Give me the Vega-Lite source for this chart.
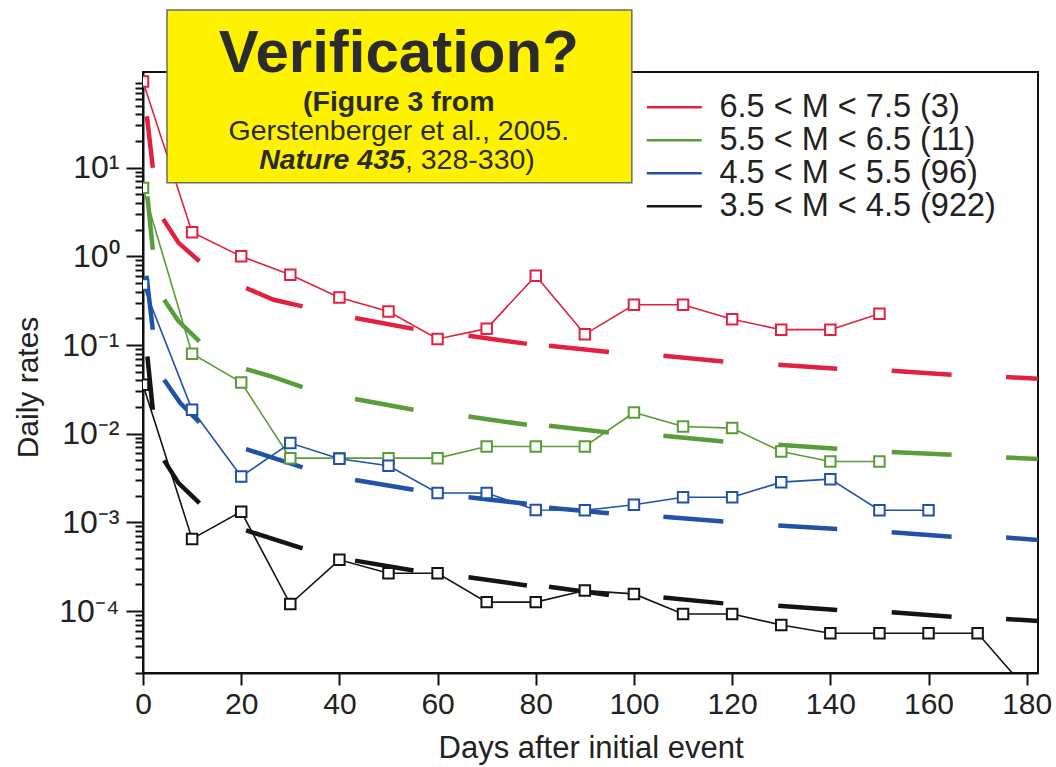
{
  "$schema": "https://vega.github.io/schema/vega-lite/v6.json",
  "width": 895,
  "height": 601,
  "autosize": {"type": "none"},
  "padding": {"left": 143, "top": 72, "right": 18, "bottom": 94},
  "background": "white",
  "config": {
    "view": {"stroke": "#111111", "strokeWidth": 2},
    "font": "Liberation Sans"
  },
  "datasets": {
    "observed": [
      {"magnitude": "6.5 < M < 7.5 (3)", "day": 0, "rate": 94},
      {"magnitude": "6.5 < M < 7.5 (3)", "day": 10, "rate": 1.87},
      {"magnitude": "6.5 < M < 7.5 (3)", "day": 20, "rate": 1.0},
      {"magnitude": "6.5 < M < 7.5 (3)", "day": 30, "rate": 0.62},
      {"magnitude": "6.5 < M < 7.5 (3)", "day": 40, "rate": 0.344},
      {"magnitude": "6.5 < M < 7.5 (3)", "day": 50, "rate": 0.239},
      {"magnitude": "6.5 < M < 7.5 (3)", "day": 60, "rate": 0.117},
      {"magnitude": "6.5 < M < 7.5 (3)", "day": 70, "rate": 0.153},
      {"magnitude": "6.5 < M < 7.5 (3)", "day": 80, "rate": 0.605},
      {"magnitude": "6.5 < M < 7.5 (3)", "day": 90, "rate": 0.132},
      {"magnitude": "6.5 < M < 7.5 (3)", "day": 100, "rate": 0.285},
      {"magnitude": "6.5 < M < 7.5 (3)", "day": 110, "rate": 0.285},
      {"magnitude": "6.5 < M < 7.5 (3)", "day": 120, "rate": 0.195},
      {"magnitude": "6.5 < M < 7.5 (3)", "day": 130, "rate": 0.149},
      {"magnitude": "6.5 < M < 7.5 (3)", "day": 140, "rate": 0.149},
      {"magnitude": "6.5 < M < 7.5 (3)", "day": 150, "rate": 0.225},
      {"magnitude": "5.5 < M < 6.5 (11)", "day": 0, "rate": 5.92},
      {"magnitude": "5.5 < M < 6.5 (11)", "day": 10, "rate": 0.0798},
      {"magnitude": "5.5 < M < 6.5 (11)", "day": 20, "rate": 0.0379},
      {"magnitude": "5.5 < M < 6.5 (11)", "day": 30, "rate": 0.0053},
      {"magnitude": "5.5 < M < 6.5 (11)", "day": 40, "rate": 0.0053},
      {"magnitude": "5.5 < M < 6.5 (11)", "day": 50, "rate": 0.0053},
      {"magnitude": "5.5 < M < 6.5 (11)", "day": 60, "rate": 0.0053},
      {"magnitude": "5.5 < M < 6.5 (11)", "day": 70, "rate": 0.00718},
      {"magnitude": "5.5 < M < 6.5 (11)", "day": 80, "rate": 0.00718},
      {"magnitude": "5.5 < M < 6.5 (11)", "day": 90, "rate": 0.00718},
      {"magnitude": "5.5 < M < 6.5 (11)", "day": 100, "rate": 0.01734},
      {"magnitude": "5.5 < M < 6.5 (11)", "day": 110, "rate": 0.01205},
      {"magnitude": "5.5 < M < 6.5 (11)", "day": 120, "rate": 0.01156},
      {"magnitude": "5.5 < M < 6.5 (11)", "day": 130, "rate": 0.0063},
      {"magnitude": "5.5 < M < 6.5 (11)", "day": 140, "rate": 0.00485},
      {"magnitude": "5.5 < M < 6.5 (11)", "day": 150, "rate": 0.00485},
      {"magnitude": "4.5 < M < 5.5 (96)", "day": 0, "rate": 0.48},
      {"magnitude": "4.5 < M < 5.5 (96)", "day": 10, "rate": 0.0186},
      {"magnitude": "4.5 < M < 5.5 (96)", "day": 20, "rate": 0.00329},
      {"magnitude": "4.5 < M < 5.5 (96)", "day": 30, "rate": 0.00783},
      {"magnitude": "4.5 < M < 5.5 (96)", "day": 40, "rate": 0.00521},
      {"magnitude": "4.5 < M < 5.5 (96)", "day": 50, "rate": 0.00434},
      {"magnitude": "4.5 < M < 5.5 (96)", "day": 60, "rate": 0.00214},
      {"magnitude": "4.5 < M < 5.5 (96)", "day": 70, "rate": 0.00214},
      {"magnitude": "4.5 < M < 5.5 (96)", "day": 80, "rate": 0.00138},
      {"magnitude": "4.5 < M < 5.5 (96)", "day": 90, "rate": 0.00137},
      {"magnitude": "4.5 < M < 5.5 (96)", "day": 100, "rate": 0.00158},
      {"magnitude": "4.5 < M < 5.5 (96)", "day": 110, "rate": 0.00192},
      {"magnitude": "4.5 < M < 5.5 (96)", "day": 120, "rate": 0.00192},
      {"magnitude": "4.5 < M < 5.5 (96)", "day": 130, "rate": 0.00284},
      {"magnitude": "4.5 < M < 5.5 (96)", "day": 140, "rate": 0.00307},
      {"magnitude": "4.5 < M < 5.5 (96)", "day": 150, "rate": 0.00137},
      {"magnitude": "4.5 < M < 5.5 (96)", "day": 160, "rate": 0.00137},
      {"magnitude": "3.5 < M < 4.5 (922)", "day": 0, "rate": 0.0356},
      {"magnitude": "3.5 < M < 4.5 (922)", "day": 10, "rate": 0.000651},
      {"magnitude": "3.5 < M < 4.5 (922)", "day": 20, "rate": 0.00132},
      {"magnitude": "3.5 < M < 4.5 (922)", "day": 30, "rate": 0.00012},
      {"magnitude": "3.5 < M < 4.5 (922)", "day": 40, "rate": 0.000378},
      {"magnitude": "3.5 < M < 4.5 (922)", "day": 50, "rate": 0.000267},
      {"magnitude": "3.5 < M < 4.5 (922)", "day": 60, "rate": 0.000267},
      {"magnitude": "3.5 < M < 4.5 (922)", "day": 70, "rate": 0.000126},
      {"magnitude": "3.5 < M < 4.5 (922)", "day": 80, "rate": 0.000126},
      {"magnitude": "3.5 < M < 4.5 (922)", "day": 90, "rate": 0.00017},
      {"magnitude": "3.5 < M < 4.5 (922)", "day": 100, "rate": 0.000156},
      {"magnitude": "3.5 < M < 4.5 (922)", "day": 110, "rate": 0.0000927},
      {"magnitude": "3.5 < M < 4.5 (922)", "day": 120, "rate": 0.0000927},
      {"magnitude": "3.5 < M < 4.5 (922)", "day": 130, "rate": 0.0000697},
      {"magnitude": "3.5 < M < 4.5 (922)", "day": 140, "rate": 0.0000561},
      {"magnitude": "3.5 < M < 4.5 (922)", "day": 150, "rate": 0.0000561},
      {"magnitude": "3.5 < M < 4.5 (922)", "day": 160, "rate": 0.0000561},
      {"magnitude": "3.5 < M < 4.5 (922)", "day": 170, "rate": 0.0000561},
      {"magnitude": "3.5 < M < 4.5 (922)", "day": 180, "rate": 0.000013}
    ],
    "forecast": [
      {"magnitude": "6.5 < M < 7.5 (3)", "segment": "r1", "day": 0.8, "rate": 38},
      {"magnitude": "6.5 < M < 7.5 (3)", "segment": "r1", "day": 2.0, "rate": 9.96},
      {"magnitude": "6.5 < M < 7.5 (3)", "segment": "r2", "day": 4.1, "rate": 2.64},
      {"magnitude": "6.5 < M < 7.5 (3)", "segment": "r2", "day": 7.25, "rate": 1.42},
      {"magnitude": "6.5 < M < 7.5 (3)", "segment": "r2", "day": 11.5, "rate": 0.88},
      {"magnitude": "6.5 < M < 7.5 (3)", "segment": "r3", "day": 21.0, "rate": 0.44},
      {"magnitude": "6.5 < M < 7.5 (3)", "segment": "r3", "day": 26.6, "rate": 0.324},
      {"magnitude": "6.5 < M < 7.5 (3)", "segment": "r3", "day": 32.5, "rate": 0.273},
      {"magnitude": "6.5 < M < 7.5 (3)", "segment": "r4", "day": 43.2, "rate": 0.202},
      {"magnitude": "6.5 < M < 7.5 (3)", "segment": "r4", "day": 55.1, "rate": 0.152},
      {"magnitude": "6.5 < M < 7.5 (3)", "segment": "r5", "day": 66.3, "rate": 0.127},
      {"magnitude": "6.5 < M < 7.5 (3)", "segment": "r5", "day": 78.2, "rate": 0.103},
      {"magnitude": "6.5 < M < 7.5 (3)", "segment": "r6", "day": 82.7, "rate": 0.098},
      {"magnitude": "6.5 < M < 7.5 (3)", "segment": "r6", "day": 94.9, "rate": 0.0834},
      {"magnitude": "6.5 < M < 7.5 (3)", "segment": "r7", "day": 106, "rate": 0.0757},
      {"magnitude": "6.5 < M < 7.5 (3)", "segment": "r7", "day": 118.2, "rate": 0.0653},
      {"magnitude": "6.5 < M < 7.5 (3)", "segment": "r8", "day": 129.4, "rate": 0.06},
      {"magnitude": "6.5 < M < 7.5 (3)", "segment": "r8", "day": 141.4, "rate": 0.054},
      {"magnitude": "6.5 < M < 7.5 (3)", "segment": "r9", "day": 152.5, "rate": 0.0513},
      {"magnitude": "6.5 < M < 7.5 (3)", "segment": "r9", "day": 164.7, "rate": 0.0462},
      {"magnitude": "6.5 < M < 7.5 (3)", "segment": "r10", "day": 175.8, "rate": 0.0435},
      {"magnitude": "6.5 < M < 7.5 (3)", "segment": "r10", "day": 182.3, "rate": 0.0417},
      {"magnitude": "5.5 < M < 6.5 (11)", "segment": "g1", "day": 0.9, "rate": 4.75},
      {"magnitude": "5.5 < M < 6.5 (11)", "segment": "g1", "day": 2.0, "rate": 1.19},
      {"magnitude": "5.5 < M < 6.5 (11)", "segment": "g2", "day": 4.3, "rate": 0.324},
      {"magnitude": "5.5 < M < 6.5 (11)", "segment": "g2", "day": 7.25, "rate": 0.185},
      {"magnitude": "5.5 < M < 6.5 (11)", "segment": "g2", "day": 11.5, "rate": 0.11},
      {"magnitude": "5.5 < M < 6.5 (11)", "segment": "g3", "day": 21.0, "rate": 0.0536},
      {"magnitude": "5.5 < M < 6.5 (11)", "segment": "g3", "day": 26.6, "rate": 0.0435},
      {"magnitude": "5.5 < M < 6.5 (11)", "segment": "g3", "day": 32.5, "rate": 0.0336},
      {"magnitude": "5.5 < M < 6.5 (11)", "segment": "g4", "day": 43.2, "rate": 0.0246},
      {"magnitude": "5.5 < M < 6.5 (11)", "segment": "g4", "day": 55.1, "rate": 0.0186},
      {"magnitude": "5.5 < M < 6.5 (11)", "segment": "g5", "day": 66.3, "rate": 0.0156},
      {"magnitude": "5.5 < M < 6.5 (11)", "segment": "g5", "day": 78.2, "rate": 0.0126},
      {"magnitude": "5.5 < M < 6.5 (11)", "segment": "g6", "day": 82.7, "rate": 0.0123},
      {"magnitude": "5.5 < M < 6.5 (11)", "segment": "g6", "day": 94.9, "rate": 0.0103},
      {"magnitude": "5.5 < M < 6.5 (11)", "segment": "g7", "day": 106, "rate": 0.00947},
      {"magnitude": "5.5 < M < 6.5 (11)", "segment": "g7", "day": 118.2, "rate": 0.00817},
      {"magnitude": "5.5 < M < 6.5 (11)", "segment": "g8", "day": 129.4, "rate": 0.0075},
      {"magnitude": "5.5 < M < 6.5 (11)", "segment": "g8", "day": 141.4, "rate": 0.00676},
      {"magnitude": "5.5 < M < 6.5 (11)", "segment": "g9", "day": 152.5, "rate": 0.0062},
      {"magnitude": "5.5 < M < 6.5 (11)", "segment": "g9", "day": 164.7, "rate": 0.00578},
      {"magnitude": "5.5 < M < 6.5 (11)", "segment": "g10", "day": 175.8, "rate": 0.00539},
      {"magnitude": "5.5 < M < 6.5 (11)", "segment": "g10", "day": 182.3, "rate": 0.00517},
      {"magnitude": "4.5 < M < 5.5 (96)", "segment": "b1", "day": 0.7, "rate": 0.605},
      {"magnitude": "4.5 < M < 5.5 (96)", "segment": "b1", "day": 2.0, "rate": 0.149},
      {"magnitude": "4.5 < M < 5.5 (96)", "segment": "b2", "day": 4.3, "rate": 0.0405},
      {"magnitude": "4.5 < M < 5.5 (96)", "segment": "b2", "day": 7.6, "rate": 0.0221},
      {"magnitude": "4.5 < M < 5.5 (96)", "segment": "b2", "day": 11.5, "rate": 0.0134},
      {"magnitude": "4.5 < M < 5.5 (96)", "segment": "b3", "day": 21.0, "rate": 0.0067},
      {"magnitude": "4.5 < M < 5.5 (96)", "segment": "b3", "day": 32.5, "rate": 0.00416},
      {"magnitude": "4.5 < M < 5.5 (96)", "segment": "b4", "day": 43.2, "rate": 0.003},
      {"magnitude": "4.5 < M < 5.5 (96)", "segment": "b4", "day": 55.1, "rate": 0.00233},
      {"magnitude": "4.5 < M < 5.5 (96)", "segment": "b5", "day": 66.3, "rate": 0.00192},
      {"magnitude": "4.5 < M < 5.5 (96)", "segment": "b5", "day": 78.2, "rate": 0.00162},
      {"magnitude": "4.5 < M < 5.5 (96)", "segment": "b6", "day": 82.7, "rate": 0.00146},
      {"magnitude": "4.5 < M < 5.5 (96)", "segment": "b6", "day": 94.9, "rate": 0.00127},
      {"magnitude": "4.5 < M < 5.5 (96)", "segment": "b7", "day": 106, "rate": 0.00116},
      {"magnitude": "4.5 < M < 5.5 (96)", "segment": "b7", "day": 118.2, "rate": 0.00102},
      {"magnitude": "4.5 < M < 5.5 (96)", "segment": "b8", "day": 129.4, "rate": 0.00092},
      {"magnitude": "4.5 < M < 5.5 (96)", "segment": "b8", "day": 141.4, "rate": 0.00084},
      {"magnitude": "4.5 < M < 5.5 (96)", "segment": "b9", "day": 152.5, "rate": 0.000775},
      {"magnitude": "4.5 < M < 5.5 (96)", "segment": "b9", "day": 164.7, "rate": 0.00069},
      {"magnitude": "4.5 < M < 5.5 (96)", "segment": "b10", "day": 175.8, "rate": 0.000673},
      {"magnitude": "4.5 < M < 5.5 (96)", "segment": "b10", "day": 182.3, "rate": 0.000634},
      {"magnitude": "3.5 < M < 4.5 (922)", "segment": "k1", "day": 0.9, "rate": 0.0743},
      {"magnitude": "3.5 < M < 4.5 (922)", "segment": "k1", "day": 2.0, "rate": 0.0186},
      {"magnitude": "3.5 < M < 4.5 (922)", "segment": "k2", "day": 4.3, "rate": 0.005},
      {"magnitude": "3.5 < M < 4.5 (922)", "segment": "k2", "day": 7.25, "rate": 0.00277},
      {"magnitude": "3.5 < M < 4.5 (922)", "segment": "k2", "day": 11.5, "rate": 0.00165},
      {"magnitude": "3.5 < M < 4.5 (922)", "segment": "k3", "day": 21.0, "rate": 0.00081},
      {"magnitude": "3.5 < M < 4.5 (922)", "segment": "k3", "day": 32.5, "rate": 0.00051},
      {"magnitude": "3.5 < M < 4.5 (922)", "segment": "k4", "day": 43.2, "rate": 0.00037},
      {"magnitude": "3.5 < M < 4.5 (922)", "segment": "k4", "day": 55.1, "rate": 0.000286},
      {"magnitude": "3.5 < M < 4.5 (922)", "segment": "k5", "day": 66.3, "rate": 0.000241},
      {"magnitude": "3.5 < M < 4.5 (922)", "segment": "k5", "day": 78.2, "rate": 0.000194},
      {"magnitude": "3.5 < M < 4.5 (922)", "segment": "k6", "day": 82.7, "rate": 0.000188},
      {"magnitude": "3.5 < M < 4.5 (922)", "segment": "k6", "day": 94.9, "rate": 0.000152},
      {"magnitude": "3.5 < M < 4.5 (922)", "segment": "k7", "day": 106, "rate": 0.000142},
      {"magnitude": "3.5 < M < 4.5 (922)", "segment": "k7", "day": 118.2, "rate": 0.000122},
      {"magnitude": "3.5 < M < 4.5 (922)", "segment": "k8", "day": 129.4, "rate": 0.000115},
      {"magnitude": "3.5 < M < 4.5 (922)", "segment": "k8", "day": 141.4, "rate": 0.000103},
      {"magnitude": "3.5 < M < 4.5 (922)", "segment": "k9", "day": 152.5, "rate": 0.0000968},
      {"magnitude": "3.5 < M < 4.5 (922)", "segment": "k9", "day": 164.7, "rate": 0.0000864},
      {"magnitude": "3.5 < M < 4.5 (922)", "segment": "k10", "day": 175.8, "rate": 0.0000815},
      {"magnitude": "3.5 < M < 4.5 (922)", "segment": "k10", "day": 182.3, "rate": 0.0000773}
    ]
  },
  "layer": [
    {
      "data": {"name": "forecast"},
      "mark": {"type": "line", "strokeWidth": 4.5, "strokeCap": "butt", "clip": true},
      "encoding": {
        "x": {
          "field": "day", "type": "quantitative",
          "scale": {"domain": [0, 182.3], "nice": false, "zero": false},
          "axis": {
            "title": "Days after initial event",
            "values": [0, 20, 40, 60, 80, 100, 120, 140, 160, 180],
            "grid": false,
            "domainColor": "#111111", "domainWidth": 2,
            "tickColor": "#111111", "tickWidth": 2, "tickSize": 12,
            "labelFont": "Liberation Sans", "labelFontSize": 30, "labelColor": "#222222", "labelPadding": 4,
            "labelFlush": false,
            "titleFont": "Liberation Sans", "titleFontSize": 31, "titleFontWeight": "normal", "titleColor": "#222222", "titlePadding": 14
          }
        },
        "y": {
          "field": "rate", "type": "quantitative",
          "scale": {"type": "log", "domain": [0.00002, 120], "nice": false},
          "axis": {
            "title": "Daily rates",
            "values": [0.00002, 0.00003, 0.00004, 0.00005, 0.00006, 0.00007, 0.00008, 0.00009,
                       0.0001, 0.0002, 0.0003, 0.0004, 0.0005, 0.0006, 0.0007, 0.0008, 0.0009,
                       0.001, 0.002, 0.003, 0.004, 0.005, 0.006, 0.007, 0.008, 0.009,
                       0.01, 0.02, 0.03, 0.04, 0.05, 0.06, 0.07, 0.08, 0.09,
                       0.1, 0.2, 0.3, 0.4, 0.5, 0.6, 0.7, 0.8, 0.9,
                       1, 2, 3, 4, 5, 6, 7, 8, 9,
                       10, 20, 30, 40, 50, 60, 70, 80, 90],
            "labelExpr": "abs(log(datum.value)/LN10 - round(log(datum.value)/LN10)) < 0.001 ? '10' + (round(log(datum.value)/LN10) < 0 ? '⁻' : '') + ['⁰','¹','²','³','⁴','⁵'][abs(round(log(datum.value)/LN10))] : ''",
            "grid": false,
            "domainColor": "#111111", "domainWidth": 2,
            "tickColor": "#111111", "tickWidth": 2,
            "tickSize": {"condition": {"test": "abs(log(datum.value)/LN10 - round(log(datum.value)/LN10)) < 0.001", "value": 17}, "value": 8},
            "labelFont": "Liberation Sans", "labelFontSize": 32, "labelColor": "#222222", "labelPadding": 7,
            "labelBaseline": "middle",
            "titleFont": "Liberation Sans", "titleFontSize": 30, "titleFontWeight": "normal", "titleColor": "#222222", "titlePadding": 15,
            "titleY": 315
          }
        },
        "color": {
          "field": "magnitude", "type": "nominal",
          "scale": {
            "domain": ["6.5 < M < 7.5 (3)", "5.5 < M < 6.5 (11)", "4.5 < M < 5.5 (96)", "3.5 < M < 4.5 (922)"],
            "range": ["#e3203f", "#5a9c3a", "#2152a8", "#141414"]
          },
          "legend": {
            "title": null, "orient": "none", "legendX": 515, "legendY": 19,
            "symbolType": "M-5.5,0H5.5", "symbolSize": 100, "symbolStrokeWidth": 2.5,
            "labelFont": "Liberation Sans", "labelFontSize": 32.5, "labelColor": "#222222",
            "labelOffset": 29, "rowPadding": 0, "padding": 0, "labelLimit": 400
          }
        },
        "detail": {"field": "segment", "type": "nominal"}
      }
    },
    {
      "data": {"name": "observed"},
      "mark": {"type": "line", "strokeWidth": 1.6, "clip": true},
      "encoding": {
        "x": {"field": "day", "type": "quantitative", "scale": {"domain": [0, 182.3], "nice": false, "zero": false}, "axis": {"title": "Days after initial event"}},
        "y": {"field": "rate", "type": "quantitative", "scale": {"type": "log", "domain": [0.00002, 120], "nice": false}, "axis": {"title": "Daily rates"}},
        "color": {
          "field": "magnitude", "type": "nominal",
          "scale": {
            "domain": ["6.5 < M < 7.5 (3)", "5.5 < M < 6.5 (11)", "4.5 < M < 5.5 (96)", "3.5 < M < 4.5 (922)"],
            "range": ["#e3203f", "#5a9c3a", "#2152a8", "#141414"]
          }
        }
      }
    },
    {
      "data": {"name": "observed"},
      "mark": {"type": "point", "shape": "square", "size": 110, "filled": true, "fill": "white", "strokeWidth": 2, "opacity": 1, "clip": true},
      "encoding": {
        "x": {"field": "day", "type": "quantitative", "scale": {"domain": [0, 182.3], "nice": false, "zero": false}, "axis": {"title": "Days after initial event"}},
        "y": {"field": "rate", "type": "quantitative", "scale": {"type": "log", "domain": [0.00002, 120], "nice": false}, "axis": {"title": "Daily rates"}},
        "stroke": {
          "field": "magnitude", "type": "nominal",
          "scale": {
            "domain": ["6.5 < M < 7.5 (3)", "5.5 < M < 6.5 (11)", "4.5 < M < 5.5 (96)", "3.5 < M < 4.5 (922)"],
            "range": ["#e3203f", "#5a9c3a", "#2152a8", "#141414"]
          },
          "legend": null
        }
      }
    },
    {
      "data": {"values": [{}]},
      "mark": {"type": "rect", "fill": "#fff200", "stroke": "#6b6b6b", "strokeWidth": 1.5, "clip": false},
      "encoding": {
        "x": {"datum": 4.89, "type": "quantitative", "scale": {"domain": [0, 182.3], "nice": false, "zero": false}, "axis": {"title": "Days after initial event"}},
        "x2": {"datum": 99.57},
        "y": {"datum": 600, "type": "quantitative", "scale": {"type": "log", "domain": [0.00002, 120], "nice": false}, "axis": {"title": "Daily rates"}},
        "y2": {"datum": 6.78}
      }
    },
    {
      "data": {"values": [{}]},
      "mark": {"type": "text", "text": "Verification?", "font": "Liberation Sans", "fontWeight": "bold", "fontSize": 60, "color": "#2b2b2b", "align": "center", "baseline": "alphabetic", "clip": false},
      "encoding": {
        "x": {"datum": 52.1, "type": "quantitative", "scale": {"domain": [0, 182.3], "nice": false, "zero": false}, "axis": {"title": "Days after initial event"}},
        "y": {"datum": 120.9, "type": "quantitative", "scale": {"type": "log", "domain": [0.00002, 120], "nice": false}, "axis": {"title": "Daily rates"}}
      }
    },
    {
      "data": {"values": [{}]},
      "mark": {"type": "text", "text": "(Figure 3 from", "font": "Liberation Sans", "fontWeight": "bold", "fontSize": 28.5, "color": "#2b2b2b", "align": "center", "baseline": "alphabetic", "clip": false},
      "encoding": {
        "x": {"datum": 52.1, "type": "quantitative", "scale": {"domain": [0, 182.3], "nice": false, "zero": false}, "axis": {"title": "Days after initial event"}},
        "y": {"datum": 43.6, "type": "quantitative", "scale": {"type": "log", "domain": [0.00002, 120], "nice": false}, "axis": {"title": "Daily rates"}}
      }
    },
    {
      "data": {"values": [{}]},
      "mark": {"type": "text", "text": "Gerstenberger et al., 2005.", "font": "Liberation Sans", "fontSize": 28.5, "color": "#2b2b2b", "align": "center", "baseline": "alphabetic", "clip": false},
      "encoding": {
        "x": {"datum": 52.1, "type": "quantitative", "scale": {"domain": [0, 182.3], "nice": false, "zero": false}, "axis": {"title": "Days after initial event"}},
        "y": {"datum": 20.5, "type": "quantitative", "scale": {"type": "log", "domain": [0.00002, 120], "nice": false}, "axis": {"title": "Daily rates"}}
      }
    },
    {
      "data": {"values": [{}]},
      "mark": {"type": "text", "text": "Nature 435", "font": "Liberation Sans", "fontWeight": "bold", "fontStyle": "italic", "fontSize": 28.5, "color": "#2b2b2b", "align": "right", "baseline": "alphabetic", "clip": false},
      "encoding": {
        "x": {"datum": 53.35, "type": "quantitative", "scale": {"domain": [0, 182.3], "nice": false, "zero": false}, "axis": {"title": "Days after initial event"}},
        "y": {"datum": 9.66, "type": "quantitative", "scale": {"type": "log", "domain": [0.00002, 120], "nice": false}, "axis": {"title": "Daily rates"}}
      }
    },
    {
      "data": {"values": [{}]},
      "mark": {"type": "text", "text": ", 328-330)", "font": "Liberation Sans", "fontSize": 28.5, "color": "#2b2b2b", "align": "left", "baseline": "alphabetic", "clip": false},
      "encoding": {
        "x": {"datum": 53.35, "type": "quantitative", "scale": {"domain": [0, 182.3], "nice": false, "zero": false}, "axis": {"title": "Days after initial event"}},
        "y": {"datum": 9.66, "type": "quantitative", "scale": {"type": "log", "domain": [0.00002, 120], "nice": false}, "axis": {"title": "Daily rates"}}
      }
    }
  ]
}
